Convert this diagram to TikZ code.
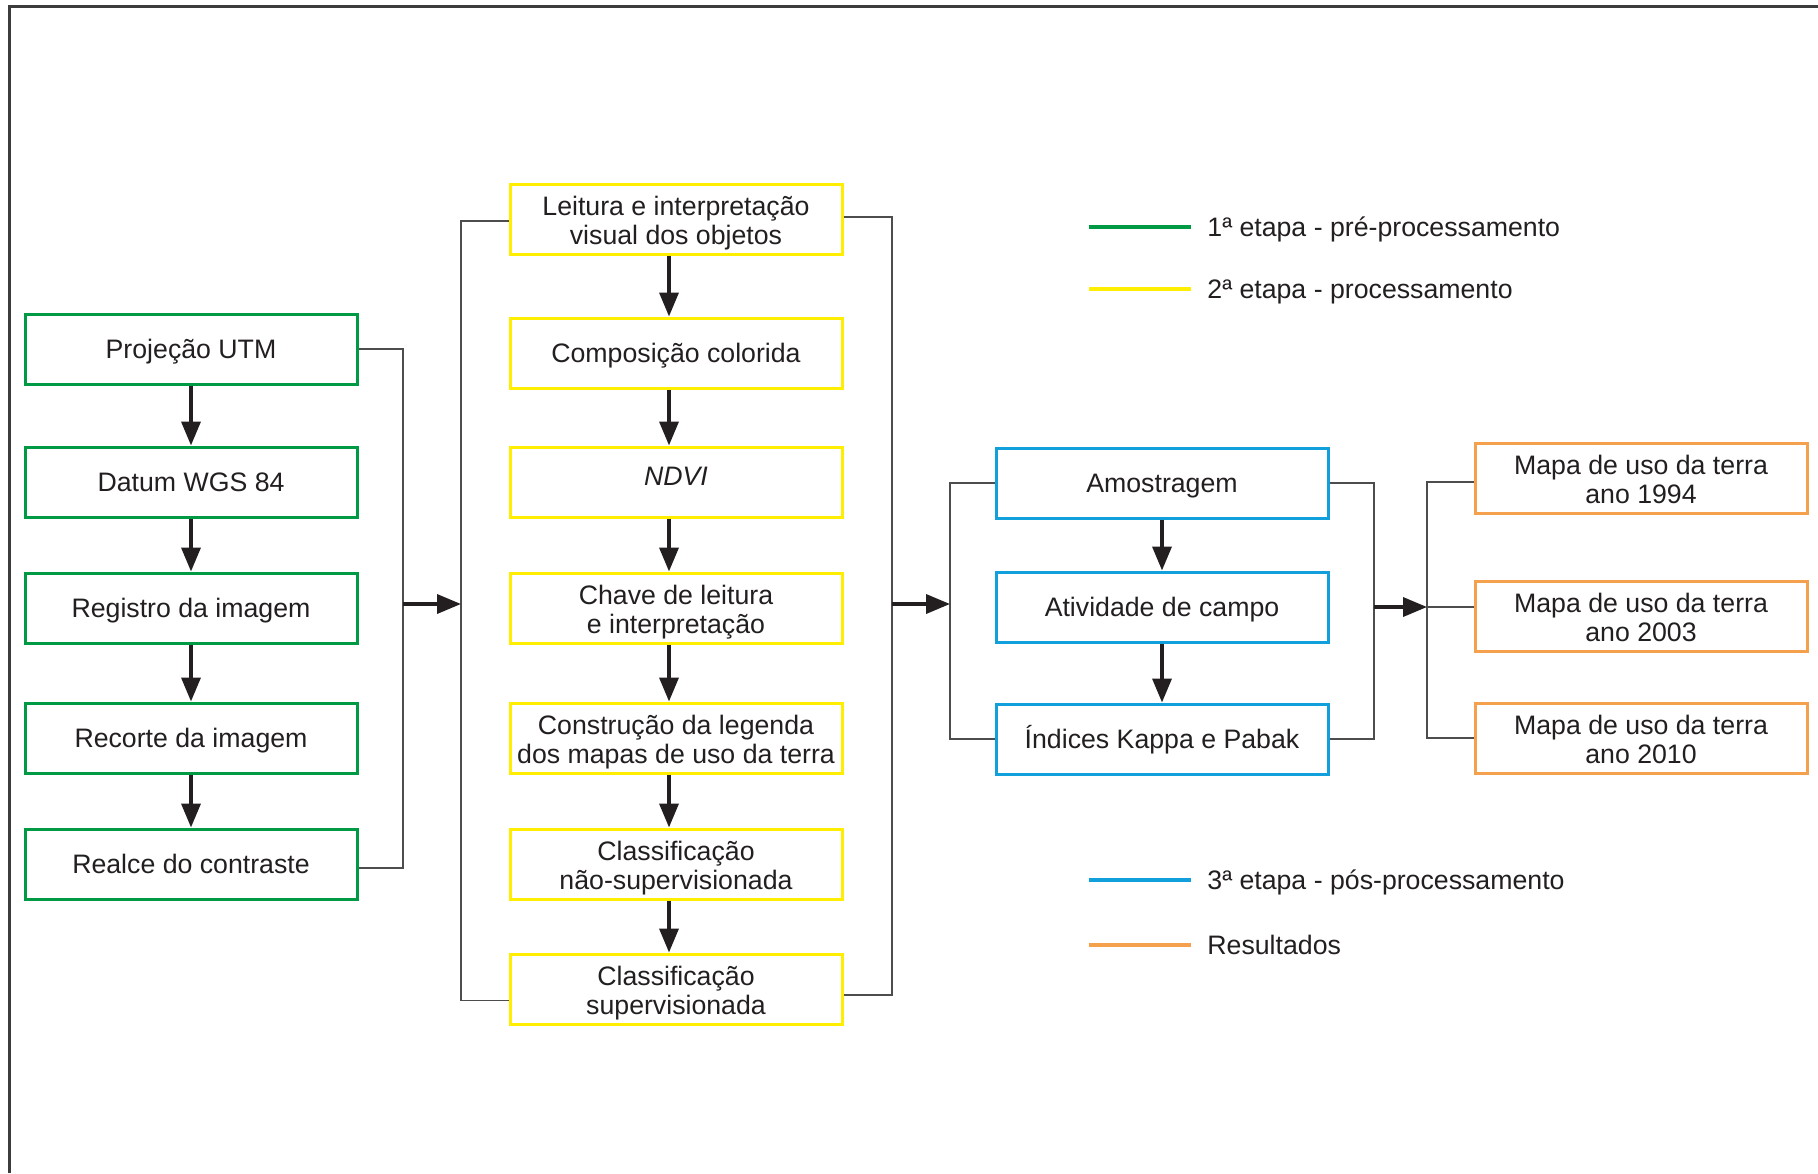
\documentclass[tikz,border=0pt]{standalone}
\usepackage{fontspec}
\setmainfont{Liberation Sans}
\usetikzlibrary{arrows.meta}
\definecolor{cgreen}{HTML}{009A44}
\definecolor{cyellow}{HTML}{FFEE00}
\definecolor{cblue}{HTML}{12A0DC}
\definecolor{corange}{HTML}{F4A04C}
\definecolor{txt}{HTML}{231F20}
\definecolor{conn}{HTML}{4D4D4D}
\definecolor{framec}{HTML}{3C3C3C}
\tikzset{
  box/.style={draw, line width=1.5pt, minimum width=166pt, minimum height=35pt,
    inner sep=0pt, align=center, text=txt, fill=white,
    text height=9.8pt, text depth=0pt,
    font=\fontsize{13.35}{14.6}\selectfont},
  twoline/.style={text height=25.8pt, text depth=0pt},
  gbox/.style={box, draw=cgreen},
  ybox/.style={box, draw=cyellow},
  bbox/.style={box, draw=cblue},
  obox/.style={box, draw=corange},
  bracketline/.style={draw=conn, line width=0.75pt},
  bigarrow/.style={draw=txt, line width=1.8pt, -{Triangle[length=12pt,width=9.5pt]}},
  legline/.style={line width=2pt},
  legtext/.style={anchor=west, text=txt, inner sep=0pt, text height=9.5pt, text depth=0pt,
    font=\fontsize{13.35}{14.6}\selectfont},
  framestyle/.style={draw=framec, line width=1.5pt}
}
\begin{document}
\begin{tikzpicture}[x=0.5pt,y=-0.5pt]
\useasboundingbox (0,0) rectangle (1818,1173);
\fill[white] (0,0) rectangle (1818,1173);
\draw[framestyle] (9,1173) -- (9,6) -- (1818,6);

% green column
\node[gbox] (g1) at (191,349) {Projeção UTM};
\node[gbox] (g2) at (191,482) {Datum WGS 84};
\node[gbox] (g3) at (191,608) {Registro da imagem};
\node[gbox] (g4) at (191,738) {Recorte da imagem};
\node[gbox] (g5) at (191,864) {Realce do contraste};

% yellow column
\node[ybox, twoline] (y1) at (676,219) {Leitura e interpretação\\visual dos objetos};
\node[ybox] (y2) at (676,353) {Composição colorida};
\node[ybox, text height=3pt] (y3) at (676,482) {\itshape NDVI};
\node[ybox, twoline] (y4) at (676,608) {Chave de leitura\\e interpretação};
\node[ybox, twoline] (y5) at (676,738) {Construção da legenda\\dos mapas de uso da terra};
\node[ybox, twoline] (y6) at (676,864) {Classificação\\não-supervisionada};
\node[ybox, twoline] (y7) at (676,989) {Classificação\\supervisionada};

% blue column
\node[bbox] (b1) at (1162,483) {Amostragem};
\node[bbox] (b2) at (1162,607) {Atividade de campo};
\node[bbox] (b3) at (1162,739) {Índices Kappa e Pabak};

% orange column
\node[obox, twoline] (o1) at (1641,478) {Mapa de uso da terra\\ano 1994};
\node[obox, twoline] (o2) at (1641,616) {Mapa de uso da terra\\ano 2003};
\node[obox, twoline] (o3) at (1641,738) {Mapa de uso da terra\\ano 2010};

% vertical arrows
\foreach \a/\b in {g1/g2,g2/g3,g3/g4,g4/g5}
  \draw[bigarrow] (\a.south) -- (\b.north);
\foreach \a/\b in {y1/y2,y2/y3,y3/y4,y4/y5,y5/y6,y6/y7}
  \draw[bigarrow] ([xshift=-3.5pt]\a.south) -- ([xshift=-3.5pt]\b.north);
\foreach \a/\b in {b1/b2,b2/b3}
  \draw[bigarrow] (\a.south) -- (\b.north);

% brackets
\coordinate (gb) at (403,604);
\coordinate (ylb) at (461,604);
\coordinate (yrb) at (892,604);
\coordinate (blb) at (950,604);
\coordinate (brb) at (1374,607);
\coordinate (ob) at (1427,607);

\draw[bracketline] (g1.east) -| (gb) |- ([yshift=-2pt]g5.east);
\draw[bracketline] ([yshift=-1pt]y1.west) -| (ylb) |- ([yshift=-5.8pt]y7.west);
\draw[bracketline] ([yshift=1pt]y1.east) -| (yrb) |- ([yshift=-2.9pt]y7.east);
\draw[bracketline] (b1.west) -| (blb) |- (b3.west);
\draw[bracketline] (b1.east) -| (brb) |- (b3.east);
\draw[bracketline] ([yshift=-2pt]o1.west) -| (ob) |- (o3.west);
\draw[bracketline] (ob) -- (ob -| o2.west);

% horizontal arrows
\draw[bigarrow] (gb) -- (ylb);
\draw[bigarrow] (yrb) -- (blb);
\draw[bigarrow] (brb) -- (ob);

% legend
\draw[legline, draw=cgreen] (1089,227) -- (1191,227);
\node[legtext] (l1) at (1207,227) {1ª etapa - pré-processamento};
\draw[legline, draw=cyellow] (1089,289) -- (1191,289);
\node[legtext] (l2) at (1207,289) {2ª etapa - processamento};
\draw[legline, draw=cblue] (1089,880) -- (1191,880);
\node[legtext] (l3) at (1207,880) {3ª etapa - pós-processamento};
\draw[legline, draw=corange] (1089,945) -- (1191,945);
\node[legtext] (l4) at (1207,945) {Resultados};
\end{tikzpicture}
\end{document}
